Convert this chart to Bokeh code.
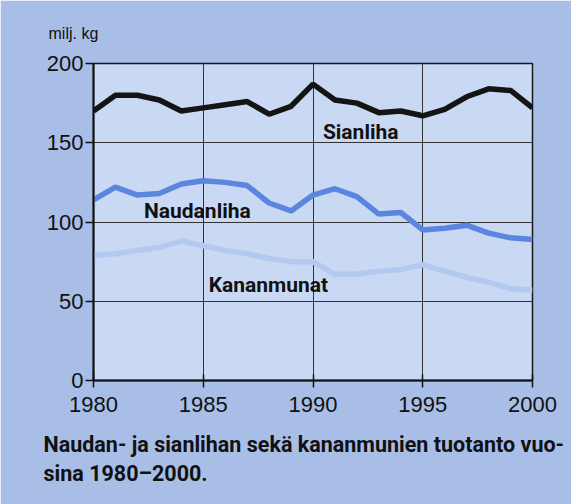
from bokeh.plotting import figure
from bokeh.models import Label, FixedTicker, Range1d, Title
from bokeh.embed import file_html
from bokeh.resources import INLINE

years = list(range(1980, 2001))
sianliha = [170, 180, 180, 177, 170, 172, 174, 176, 168, 173, 187, 177, 175, 169, 170, 167, 171, 179, 184, 183, 172]
naudanliha = [114, 122, 117, 118, 124, 126, 125, 123, 112, 107, 117, 121, 116, 105, 106, 95, 96, 98, 93, 90, 89]
kananmunat = [79, 80, 82, 84, 88, 85, 82, 80, 77, 75, 75, 67, 67, 69, 70, 73, 69, 65, 62, 58, 57]

y_ticks = [0, 50, 100, 150, 200]
x_ticks = [1980, 1985, 1990, 1995, 2000]

unit_label = "milj. kg"
series_labels = ["Sianliha", "Naudanliha", "Kananmunat"]
caption = ["Naudan- ja sianlihan sekä kananmunien tuotanto vuo-", "sina 1980–2000."]

OUTER = "#a8bee7"
INNER = "#c9d8f3"
BOLDF = "Roboto"

p = figure(width=571, height=504, output_backend="svg", toolbar_location=None,
           x_range=Range1d(1980, 2000), y_range=Range1d(0, 200),
           min_border_left=93, min_border_right=39, min_border_top=62, min_border_bottom=124)
p.background_fill_color = INNER
p.border_fill_color = OUTER
p.outline_line_color = "#1a1a1a"
p.outline_line_width = 1.5

p.xaxis.ticker = FixedTicker(ticks=x_ticks)
p.yaxis.ticker = FixedTicker(ticks=y_ticks)
for ax in (p.xaxis, p.yaxis):
    ax.axis_line_color = "#111111"
    ax.axis_line_width = 2
    ax.major_tick_line_color = "#111111"
    ax.major_tick_line_width = 1.5
    ax.minor_tick_line_color = None
    ax.major_label_text_font = "Liberation Sans"
    ax.major_label_text_font_size = "22px"
    ax.major_label_text_color = "#111111"
p.xaxis.major_tick_in = 6
p.xaxis.major_tick_out = 7
p.xaxis.major_label_standoff = 9
p.yaxis.major_tick_in = 0
p.yaxis.major_tick_out = 8
p.yaxis.major_label_standoff = 2

p.xgrid.grid_line_color = "#333333"
p.ygrid.grid_line_color = "#333333"
p.xgrid.grid_line_width = 1
p.ygrid.grid_line_width = 1

p.line(years, kananmunat, line_color="#b4c9f1", line_width=5.5)
p.line(years, naudanliha, line_color="#5b86de", line_width=5.5)
p.line(years, sianliha, line_color="#141414", line_width=5.5)

lab_style = dict(text_font=BOLDF, text_font_style="bold", text_font_size="21px",
                 text_color="#111111", text_baseline="middle")
p.add_layout(Label(x=1990.45, y=157, text=series_labels[0], **lab_style))
p.add_layout(Label(x=1982.3, y=107, text=series_labels[1], **lab_style))
p.add_layout(Label(x=1985.25, y=60, text=series_labels[2], **lab_style))

p.add_layout(Title(text=unit_label, align="left", offset=-45, standoff=44,
                   text_font="Liberation Sans", text_font_size="16px",
                   text_font_style="normal", text_color="#111111"), "above")

p.add_layout(Title(text="\n".join(caption), align="left", offset=-50, standoff=31,
                   vertical_align="bottom",
                   text_font=BOLDF, text_font_style="bold", text_font_size="21.5px",
                   text_line_height=1.15, text_color="#111111"), "below")

open("out.html", "w").write(file_html(p, INLINE))
